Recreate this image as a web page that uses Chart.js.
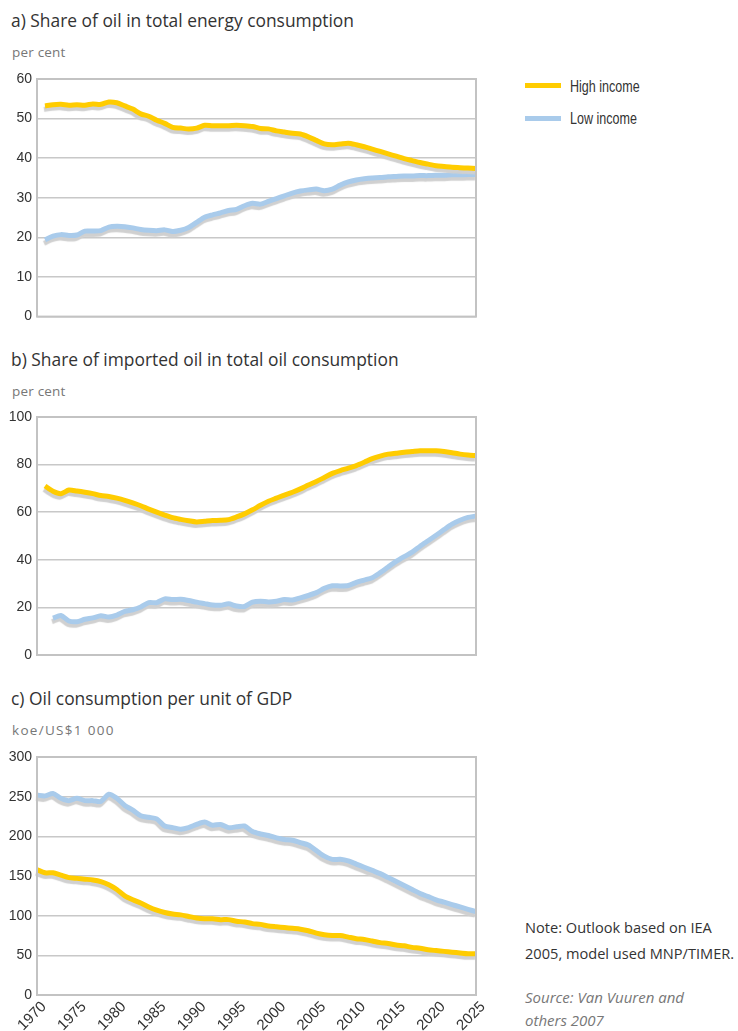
<!DOCTYPE html>
<html><head><meta charset="utf-8">
<script src="https://cdn.jsdelivr.net/npm/chart.js@4.4.1/dist/chart.umd.min.js"></script>
<style>
html,body{margin:0;padding:0;background:#fff;}
#wrap{position:relative;width:738px;height:1031px;overflow:hidden;font-family:"Open Sans","Liberation Sans",sans-serif;}
.t{position:absolute;left:11px;font-size:17.4px;line-height:20px;color:#333;white-space:nowrap;}
.u{position:absolute;left:12px;font-size:13.5px;line-height:16px;color:#777;white-space:nowrap;letter-spacing:0.2px;}
.cv{position:absolute;left:0;}
.lg{position:absolute;left:525px;width:36px;height:5px;}
.lt{position:absolute;left:570px;font-family:"Liberation Sans",sans-serif;font-size:16.5px;line-height:20px;color:#333;transform:scaleX(0.76);transform-origin:0 50%;white-space:nowrap;}
.n{position:absolute;left:525px;font-size:14.6px;line-height:18px;color:#333;white-space:nowrap;}
.s{position:absolute;left:525px;font-size:15px;line-height:18px;color:#777;font-style:italic;white-space:nowrap;}
</style></head>
<body><div id="wrap">
<div class="t" style="top:10px">a) Share of oil in total energy consumption</div>
<div class="u" style="top:44px">per cent</div>
<canvas id="ca" class="cv" style="top:60px" width="480" height="270"></canvas>
<div class="t" style="top:349px">b) Share of imported oil in total oil consumption</div>
<div class="u" style="top:383px">per cent</div>
<canvas id="cb" class="cv" style="top:400px" width="480" height="270"></canvas>
<div class="t" style="top:688px">c) Oil consumption per unit of GDP</div>
<div class="u" style="top:722px;letter-spacing:1.3px">koe/US$1 000</div>
<canvas id="cc" class="cv" style="top:740px" width="505" height="291"></canvas>
<div class="lg" style="top:83px;background:#FFCC00"></div>
<div class="lt" style="top:76px">High income</div>
<div class="lg" style="top:116px;background:#A9CBEB"></div>
<div class="lt" style="top:108px">Low income</div>
<div class="n" style="top:918px">Note: Outlook based on IEA</div>
<div class="n" style="top:944px">2005, model used MNP/TIMER.</div>
<div class="s" style="top:988px">Source: Van Vuuren and</div>
<div class="s" style="top:1011px">others 2007</div>
</div>
<script>
const years = [];
for (let y = 1970; y <= 2025; y++) years.push(String(y));
const seriesNames = ["High income", "Low income"];

const shareOilHigh = [null,53.2,53.5,53.6,53.4,53.5,53.4,53.7,53.6,54.2,54.0,53.2,52.4,51.2,50.6,49.6,48.8,47.8,47.6,47.4,47.6,48.3,48.2,48.2,48.2,48.3,48.2,48.0,47.5,47.4,46.9,46.6,46.3,46.1,45.4,44.5,43.6,43.4,43.6,43.8,43.4,42.9,42.3,41.7,41.1,40.5,39.9,39.4,38.9,38.5,38.1,37.9,37.7,37.6,37.5,37.4];
const shareOilLow = [null,19.4,20.3,20.7,20.5,20.6,21.6,21.6,21.7,22.6,22.8,22.7,22.4,22.0,21.8,21.7,21.9,21.5,21.8,22.5,23.8,25.1,25.7,26.2,26.8,27.1,28.0,28.6,28.4,29.1,29.8,30.5,31.2,31.7,32.0,32.2,31.8,32.2,33.2,34.0,34.5,34.8,35.0,35.1,35.3,35.4,35.5,35.5,35.6,35.6,35.7,35.7,35.8,35.8,35.9,35.9];

const importHigh = [null,71.0,68.8,67.8,69.3,68.9,68.4,67.8,67.0,66.6,65.9,65.0,63.9,62.7,61.3,60.0,58.8,57.7,57.0,56.4,55.9,56.2,56.5,56.6,56.9,58.0,59.3,61.0,62.9,64.6,65.9,67.2,68.4,69.8,71.4,72.9,74.6,76.3,77.5,78.5,79.6,81.0,82.5,83.6,84.4,84.8,85.2,85.5,85.8,85.8,85.8,85.5,85.0,84.4,84.0,83.8];
const importLow = [null,null,15.5,16.6,14.3,14.0,15.0,15.6,16.5,16.0,16.8,18.3,19.0,20.2,22.0,22.0,23.6,23.3,23.4,22.9,22.2,21.6,21.0,20.9,21.5,20.6,20.4,22.2,22.6,22.3,22.6,23.3,23.1,24.0,25.0,26.2,28.0,29.1,29.0,29.2,30.5,31.5,32.5,34.6,37.0,39.3,41.3,43.2,45.7,48.0,50.3,52.7,55.0,56.6,57.8,58.4];

const gdpHigh = [158,154,154,151,148,147,146,145,143,139,133,125,120,116,111,107,104,102,101,99,97,96,96,95,95,93,92,90,89,87,86,85,84,83,81,78,76,75,75,73,71,70,68,66,65,63,62,60,59,57,56,55,54,53,52,52];
const gdpLow = [252,251,254,248,245,248,245,245,244,253,248,239,233,226,224,222,213,211,209,211,215,218,214,215,211,212,213,206,203,201,198,196,195,192,189,182,175,171,171,169,165,161,157,153,148,143,138,133,128,124,120,117,114,111,108,105];

const yTicksA = {min:0, max:60, step:10};
const yTicksB = {min:0, max:100, step:20};
const yTicksC = {min:0, max:300, step:50};

const tickFont = {family:"'Liberation Sans',sans-serif", size:14};

const shadowPlugin = {
  id:'shadow',
  beforeDatasetDraw(chart){ const c=chart.ctx; c.save(); c.shadowColor='rgba(208,208,208,1)'; c.shadowOffsetX=-1; c.shadowOffsetY=3.5; c.shadowBlur=1; },
  afterDatasetDraw(chart){ chart.ctx.restore(); }
};
const framePlugin = {
  id:'frame',
  afterDraw(chart){ const a=chart.chartArea, c=chart.ctx; c.save(); c.strokeStyle='#c3c3c3'; c.lineWidth=2; c.strokeRect(a.left,a.top,a.right-a.left,a.bottom-a.top); c.restore(); }
};

function makeChart(id, high, low, yt, pad, showX){
  return new Chart(document.getElementById(id), {
    type:'line',
    data:{labels:years, datasets:[
      {label:seriesNames[0], data:high, borderColor:'#FFCC00', borderWidth:5, pointRadius:0, tension:0.25, fill:false},
      {label:seriesNames[1], data:low, borderColor:'#A9CBEB', borderWidth:5, pointRadius:0, tension:0.25, fill:false}
    ]},
    options:{
      responsive:false, animation:false, devicePixelRatio:1,
      layout:{padding:pad},
      plugins:{legend:{display:false}, tooltip:{enabled:false}},
      scales:{
        x:{display:showX, offset:false,
           grid:{display:false, drawTicks:false},
           border:{display:false},
           ticks:{autoSkip:false, maxRotation:45, minRotation:45, padding:3, labelOffset:7, color:'#333', font:{family:"'Liberation Sans',sans-serif", size:15},
                  callback:function(v,i){ const y=+years[i]; return y%5===0 ? years[i] : null; }},
           afterFit(s){ if(showX){ s.height = 36; } s.paddingLeft = 0; s.paddingRight = 0; }
        },
        y:{min:yt.min, max:yt.max,
           ticks:{stepSize:yt.step, padding:5, color:'#333', font:tickFont},
           grid:{color:'#c8c8c8', lineWidth:1.5, drawTicks:false},
           border:{display:false},
           afterFit(s){ s.width = 37; }
        }
      }
    },
    plugins:[shadowPlugin, framePlugin]
  });
}
makeChart('ca', shareOilHigh, shareOilLow, yTicksA, {left:0,right:4,top:19,bottom:13}, false);
makeChart('cb', importHigh, importLow, yTicksB, {left:0,right:4,top:17,bottom:15}, false);
makeChart('cc', gdpHigh, gdpLow, yTicksC, {left:0,right:29,top:17,bottom:0}, true);
</script>
</body></html>
